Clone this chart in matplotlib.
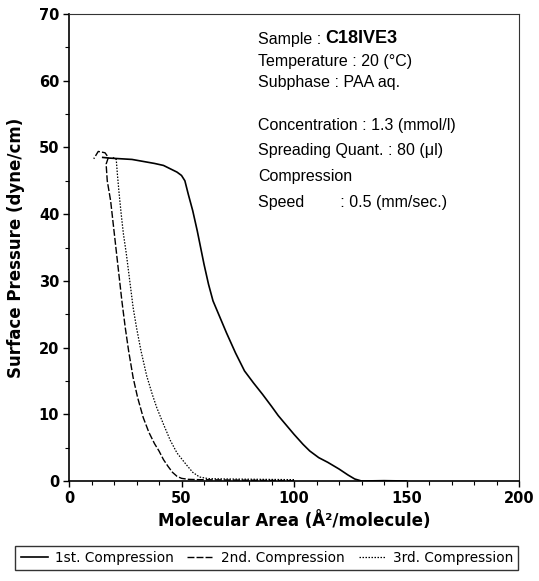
import matplotlib
matplotlib.use("Agg")
import matplotlib.pyplot as plt
from matplotlib.ticker import MultipleLocator

plt.rcParams["font.family"] = ["Liberation Sans", "DejaVu Sans"]

# Isotherm data (area in A^2/molecule, pressure in dyne/cm)
first_area = [150, 140, 130, 127, 124, 120, 115, 111, 107, 104, 100, 97, 93, 90, 86, 82,
              78, 74, 70, 67, 64, 62, 60, 58.5, 57, 55, 53, 51.5, 50, 48, 45, 42,
              38, 33, 28, 23, 18, 15]
first_pressure = [0, 0.05, 0, 0.3, 0.9, 1.8, 2.8, 3.5, 4.5, 5.5, 7, 8.2, 9.8, 11.2, 13, 14.7,
                  16.5, 19.2, 22.2, 24.6, 27, 29.5, 32.5, 35, 37.5, 40.5, 43, 45, 45.8, 46.3, 46.8, 47.3,
                  47.6, 47.9, 48.2, 48.3, 48.4, 48.5]

second_area = [100, 85, 70, 58, 53, 50, 48, 46, 44, 42, 40, 38, 35.5, 33, 30.5, 28.5,
               26.5, 25, 23.5, 22.5, 21.5, 20.5, 19.5, 18.5, 17, 16.5, 17.5, 16, 13, 11]
second_pressure = [0.05, 0.1, 0.15, 0.2, 0.25, 0.4, 0.7, 1.3, 2.2, 3.2, 4.5, 5.6, 7.3, 9.5, 12.5, 15.5,
                   19.5, 23, 27, 30, 33, 36, 39, 42, 45, 47.5, 48.5, 49.2, 49.4, 48.3]

third_area = [100, 85, 70, 62, 58, 55, 52, 48, 45, 42, 39, 37, 34.5, 32, 30, 28.5,
              27, 25.5, 24.2, 23.2, 22.3, 21.5, 21, 19]
third_pressure = [0.2, 0.25, 0.3, 0.35, 0.6, 1.3, 2.5, 4.2, 6.1, 8.5, 11, 13, 15.8, 19.5, 23, 26,
                  30, 34, 37, 40, 43, 46, 48.2, 48.6]

labels = ["1st. Compression", "2nd. Compression", "3rd. Compression"]

info_lines = ["Temperature : 20 (\u00b0C)",
              "Subphase : PAA aq.",
              "Concentration : 1.3 (mmol/l)",
              "Spreading Quant. : 80 (\u03bcl)",
              "Compression",
              "Speed        : 0.5 (mm/sec.)"]
info_y = [62.9, 59.8, 53.3, 49.6, 45.6, 41.8]

fig = plt.figure(figsize=(5.39, 5.81), dpi=100)
ax = fig.add_axes([69 / 539, 1 - 481 / 581, 450 / 539, 467 / 581])

l1, = ax.plot(first_area, first_pressure, color="black", lw=1.2, label=labels[0])
l2, = ax.plot(second_area, second_pressure, color="black", lw=1.0, dashes=(5, 1.5), label=labels[1])
l3, = ax.plot(third_area, third_pressure, color="black", lw=0.9, dashes=(1.2, 1.2), label=labels[2])

ax.set_xlim(0, 200)
ax.set_ylim(0, 70)
ax.xaxis.set_major_locator(MultipleLocator(50))
ax.xaxis.set_minor_locator(MultipleLocator(10))
ax.yaxis.set_major_locator(MultipleLocator(10))
ax.yaxis.set_minor_locator(MultipleLocator(5))
ax.tick_params(which="major", direction="out", length=4, width=1, pad=3)
ax.tick_params(which="minor", direction="out", length=3, width=0.8)
for lab in ax.get_xticklabels() + ax.get_yticklabels():
    lab.set_fontweight("bold")
    lab.set_fontfamily("DejaVu Sans")
    lab.set_fontsize(10.5)

for side in ["left", "bottom"]:
    ax.spines[side].set_linewidth(1.2)
for side in ["top", "right"]:
    ax.spines[side].set_linewidth(0.8)
    ax.spines[side].set_color("#333333")

ax.set_xlabel("Molecular Area (\u00c5\u00b2/molecule)", fontsize=12, fontweight="bold",
              family="DejaVu Sans", labelpad=4)
ax.set_ylabel("Surface Pressure (dyne/cm)", fontsize=12, fontweight="bold",
              family="DejaVu Sans")
ax.yaxis.set_label_coords(-0.097, 0.5)

# sample info block
t0 = ax.text(84, 66.2, "Sample : ", fontsize=11.5, va="center", ha="left")
fig.canvas.draw()
bb = t0.get_window_extent()
x_next = ax.transData.inverted().transform((bb.x1, bb.y0))[0]
ax.text(x_next, 66.3, "C18IVE3", fontsize=13, fontweight="bold", va="center", ha="left")
for txt, yy in zip(info_lines, info_y):
    ax.text(84, yy, txt, fontsize=11.5, va="center", ha="left")

leg = fig.legend(handles=[l1, l2, l3], loc="center", bbox_to_anchor=(0.495, 1 - 558 / 581),
                 ncol=3, frameon=True, fancybox=False, handlelength=2.0,
                 handletextpad=0.5, columnspacing=1.0, borderpad=0.4,
                 prop={"family": "DejaVu Sans", "size": 9.8})
leg.get_frame().set_edgecolor("black")
leg.get_frame().set_linewidth(1.0)

fig.savefig("out.png", dpi=100)
